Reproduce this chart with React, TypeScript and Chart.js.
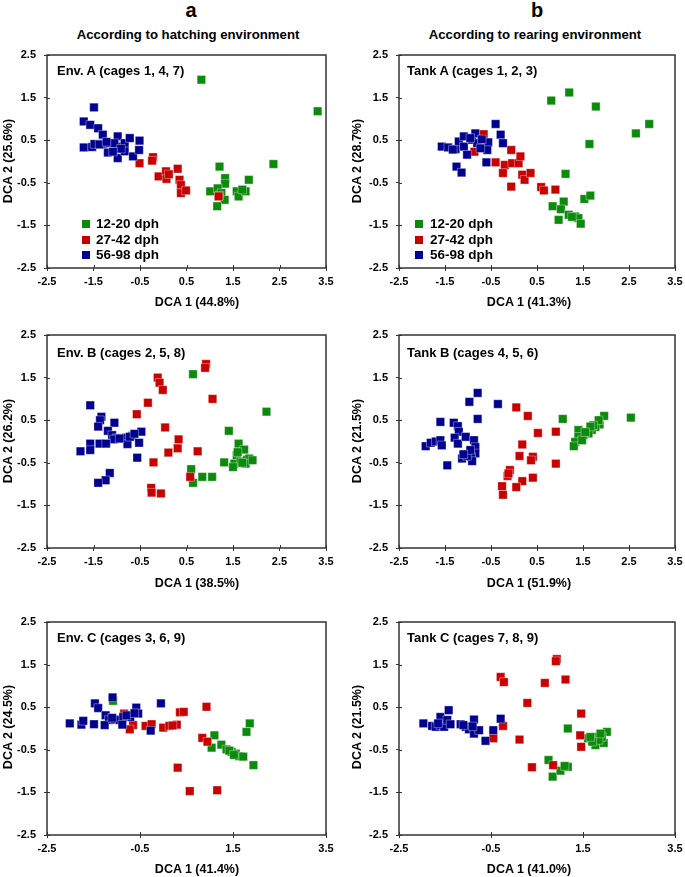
import React, { useEffect, useRef } from "react";
import { Chart, registerables } from "chart.js";

Chart.register(...registerables);

type Pts = [number, number][];

// ---------- tick labels ----------
const xTicksFine = [-2.5, -1.5, -0.5, 0.5, 1.5, 2.5, 3.5];
const xTicksCoarse = [-2.5, -0.5, 1.5, 3.5];
const yTicks = [-2.5, -1.5, -0.5, 0.5, 1.5, 2.5];

// ---------- groups ----------
const groupLabels = ["12-20 dph", "27-42 dph", "56-98 dph"];
const groupColors = ["#0b8a0b", "#c80000", "#000090"];

// ---------- Env. A (cages 1, 4, 7) ----------
const envA_12_20: Pts = [[0.82,1.92],[3.32,1.18],[2.37,-0.06],[1.21,-0.12],[1.33,-0.39],[1.33,-0.52],[1.84,-0.43],[1.01,-0.70],[1.17,-0.63],[1.25,-0.74],[1.32,-0.90],[1.16,-1.05],[1.58,-0.70],[1.62,-0.82],[1.77,-0.70],[1.70,-0.66],[1.20,-0.80]];
const envA_27_42: Pts = [[-0.51,-0.04],[-0.22,0.10],[-0.24,0.02],[-0.10,-0.35],[0.06,-0.23],[0.07,-0.41],[0.31,-0.17],[0.35,-0.43],[0.38,-0.55],[0.38,-0.74],[0.49,-0.68],[1.19,-0.82],[0.12,-0.30]];
const envA_56_98: Pts = [[-1.49,1.27],[-1.71,0.94],[-1.57,0.86],[-1.40,0.78],[-1.30,0.63],[-1.71,0.33],[-1.53,0.34],[-1.48,0.41],[-1.30,0.41],[-1.15,0.43],[-1.19,0.21],[-0.98,0.59],[-0.98,0.35],[-0.98,0.08],[-0.83,0.43],[-0.83,0.24],[-0.72,0.55],[-0.65,0.12],[-0.51,0.49],[-0.52,0.27],[-1.05,0.43],[-0.91,0.30],[-1.08,0.23],[-1.37,0.40],[-1.22,0.46]];

// ---------- Tank A (cages 1, 2, 3) ----------
const tankA_12_20: Pts = [[0.81,1.43],[1.20,1.62],[1.78,1.29],[2.94,0.88],[2.65,0.66],[1.64,0.41],[1.12,-0.29],[1.53,-0.88],[1.66,-0.80],[0.84,-1.05],[1.08,-0.94],[1.02,-1.12],[0.97,-1.37],[1.19,-1.25],[1.33,-1.29],[1.40,-1.33],[1.45,-1.46],[1.26,-1.30]];
const tankA_27_42: Pts = [[-0.66,0.64],[-0.86,0.23],[-0.40,-0.02],[-0.06,0.27],[-0.20,-0.08],[-0.24,-0.27],[-0.04,-0.04],[0.10,-0.04],[0.14,0.12],[0.18,-0.31],[0.23,-0.43],[0.36,-0.27],[-0.06,-0.59],[0.59,-0.60],[0.65,-0.68],[0.90,-0.66]];
const tankA_56_98: Pts = [[-0.40,0.88],[-0.29,0.63],[-0.24,0.43],[-0.56,0.45],[-0.58,0.27],[-0.60,-0.02],[-1.57,0.35],[-1.43,0.33],[-1.27,0.29],[-1.20,0.47],[-1.09,0.59],[-1.09,0.35],[-1.02,0.16],[-0.91,0.51],[-0.84,0.66],[-0.80,0.43],[-0.73,0.31],[-1.25,-0.12],[-1.14,-0.26],[-0.95,0.55],[-1.33,0.28],[-0.70,0.52]];

// ---------- Env. B (cages 2, 5, 8) ----------
const envB_12_20: Pts = [[0.64,1.58],[2.22,0.70],[1.41,0.25],[1.62,-0.05],[1.74,-0.19],[1.58,-0.32],[1.31,-0.49],[1.53,-0.52],[1.66,-0.47],[1.80,-0.43],[1.85,-0.40],[1.77,-0.52],[1.50,-0.60],[0.60,-0.65],[0.84,-0.83],[1.05,-0.83],[0.64,-0.97],[1.92,-0.44],[1.60,-0.25],[1.70,-0.50]];
const envB_27_42: Pts = [[0.92,1.82],[0.90,1.73],[-0.12,1.50],[-0.08,1.38],[-0.01,1.21],[1.06,1.00],[-0.33,0.91],[-0.57,0.64],[0.04,0.33],[0.33,0.05],[0.31,-0.16],[0.11,-0.26],[0.74,-0.23],[-0.21,-0.49],[-0.26,-1.09],[-0.25,-1.20],[-0.05,-1.22],[0.58,-0.83]];
const envB_56_98: Pts = [[-1.57,0.85],[-1.33,0.58],[-1.36,0.50],[-1.40,0.35],[-1.05,0.44],[-1.19,0.25],[-1.10,0.15],[-1.00,0.08],[-0.90,0.07],[-0.80,0.09],[-0.67,0.13],[-0.47,0.23],[-0.52,-0.03],[-1.06,0.05],[-1.57,-0.05],[-1.78,-0.23],[-1.57,-0.20],[-1.37,-0.05],[-1.23,-0.05],[-0.77,-0.06],[-0.56,-0.38],[-1.15,-0.74],[-1.24,-0.91],[-1.40,-0.97],[-0.72,0.11],[-0.94,0.07],[-0.62,0.18]];

// ---------- Tank B (cages 4, 5, 6) ----------
const tankB_12_20: Pts = [[1.06,0.53],[2.54,0.56],[1.96,0.60],[1.86,0.40],[1.77,0.34],[1.69,0.27],[1.62,0.19],[1.51,0.15],[1.40,0.27],[1.40,0.11],[1.33,-0.01],[1.30,-0.11],[1.84,0.50],[1.72,0.38],[1.48,0.03],[1.66,0.35],[1.55,0.22]];
const tankB_27_42: Pts = [[0.05,0.80],[0.30,0.60],[0.52,0.20],[0.91,0.23],[0.18,-0.07],[0.12,-0.34],[0.41,-0.36],[0.37,-0.44],[0.91,-0.52],[-0.09,-0.67],[-0.14,-0.81],[0.41,-0.85],[0.18,-0.93],[0.05,-1.07],[-0.26,-1.05],[-0.24,-1.25],[-0.12,-0.75]];
const tankB_56_98: Pts = [[-0.79,1.14],[-0.97,0.93],[-0.35,0.88],[-0.79,0.53],[-1.60,0.46],[-1.31,0.44],[-1.22,0.36],[-1.20,0.23],[-1.29,0.09],[-1.22,-0.05],[-1.05,0.11],[-0.87,0.03],[-0.84,-0.13],[-0.84,-0.28],[-0.93,-0.36],[-1.13,-0.40],[-0.91,-0.46],[-1.45,-0.56],[-1.92,-0.11],[-1.81,-0.03],[-1.70,0.00],[-1.60,0.03],[-1.57,-0.09],[-1.02,-0.34],[-0.95,-0.20],[-1.10,-0.30]];

// ---------- Env. C (cages 3, 6, 9) ----------
const envC_12_20: Pts = [[-1.08,0.65],[1.86,0.12],[1.79,-0.08],[1.10,-0.16],[1.04,-0.45],[1.25,-0.38],[1.36,-0.49],[1.47,-0.55],[1.56,-0.59],[1.63,-0.65],[1.72,-0.66],[1.94,-0.86],[1.42,-0.52],[1.52,-0.62]];
const envC_27_42: Pts = [[0.93,0.51],[0.36,0.38],[0.44,0.39],[-0.84,0.35],[-0.65,0.08],[-0.72,-0.02],[-0.38,0.06],[-0.25,0.10],[0.00,0.02],[0.13,0.06],[0.29,0.09],[0.84,-0.22],[0.95,-0.31],[0.31,-0.92],[0.57,-1.47],[1.16,-1.45],[0.20,0.07]];
const envC_56_98: Pts = [[-1.09,0.73],[-0.05,0.59],[-1.47,0.59],[-1.40,0.48],[-0.58,0.49],[-0.54,0.35],[-0.71,0.27],[-1.24,0.31],[-1.17,0.20],[-1.04,0.21],[-0.94,0.20],[-0.86,0.27],[-0.79,0.31],[-2.01,0.12],[-1.76,0.09],[-1.72,0.18],[-1.49,0.10],[-1.26,0.08],[-0.88,0.09],[-0.27,-0.05],[-1.10,0.25],[-0.62,0.36]];

// ---------- Tank C (cages 7, 8, 9) ----------
const tankC_12_20: Pts = [[1.17,0.00],[0.75,-0.74],[0.84,-1.13],[1.01,-0.99],[1.17,-0.90],[1.61,-0.23],[1.77,-0.20],[1.77,-0.39],[1.95,-0.34],[2.02,-0.08],[1.91,-0.20],[1.84,-0.27],[1.70,-0.31],[1.66,-0.20],[1.10,-0.88],[1.88,-0.12]];
const tankC_27_42: Pts = [[0.93,1.63],[0.91,1.58],[-0.29,1.21],[-0.22,1.09],[0.67,1.07],[1.12,1.15],[0.29,0.60],[1.46,0.35],[-0.24,0.06],[-0.45,-0.23],[0.12,-0.26],[1.44,-0.16],[1.46,-0.43],[0.85,-0.86],[0.39,-0.91]];
const tankC_56_98: Pts = [[-1.97,0.12],[-1.78,0.06],[-1.70,0.04],[-1.60,0.08],[-1.60,0.27],[-1.52,0.04],[-1.42,0.43],[-1.45,0.20],[-1.38,0.10],[-1.16,0.10],[-1.05,0.04],[-0.98,-0.02],[-0.87,0.21],[-0.87,-0.12],[-0.76,-0.04],[-0.62,-0.29],[-0.45,-0.04],[-0.29,0.23],[-0.90,0.05],[-1.10,0.08],[-1.65,0.12]];

const FONT = '"Liberation Sans", Arial, Helvetica, sans-serif';

const boxPlugin = {
  id: "plotBox",
  afterDraw(chart: any) {
    const { ctx, chartArea } = chart;
    const { left, top, right, bottom } = chartArea;
    ctx.save();
    ctx.strokeStyle = "#333";
    ctx.lineWidth = 1.5;
    ctx.strokeRect(left, top, right - left, bottom - top);
    ctx.lineWidth = 1;
    const xs = chart.scales.x;
    const ys = chart.scales.y;
    xs.ticks.forEach((t: any) => {
      const px = Math.round(xs.getPixelForValue(t.value)) + 0.5;
      ctx.beginPath();
      ctx.moveTo(px, bottom);
      ctx.lineTo(px, bottom - 3);
      ctx.stroke();
    });
    ys.ticks.forEach((t: any) => {
      const py = Math.round(ys.getPixelForValue(t.value)) + 0.5;
      ctx.beginPath();
      ctx.moveTo(left, py);
      ctx.lineTo(left + 3, py);
      ctx.stroke();
    });
    ctx.restore();
  },
};

interface PanelProps {
  colX: number;
  colW: number;
  plotLeft: number;
  plotRight: number;
  plotTop: number;
  plotBottom: number;
  groups: Pts[];
  xTicks: number[];
}

const TOP_PAD = 12;
const X_AXIS_H = 32;

function Panel(p: PanelProps) {
  const ref = useRef<HTMLCanvasElement | null>(null);
  const w = p.colW;
  const h = p.plotBottom - p.plotTop + TOP_PAD + X_AXIS_H;
  useEffect(() => {
    if (!ref.current) return;
    const tickFont = { family: FONT, weight: "bold" as const, size: 11 };
    const chart = new Chart(ref.current, {
      type: "scatter",
      data: {
        datasets: p.groups.map((g, i) => ({
          label: groupLabels[i],
          data: g.map(([x, y]) => ({ x, y })),
          backgroundColor: groupColors[i],
          borderColor: "rgba(255,255,255,0.6)",
          borderWidth: 0.6,
          pointStyle: "rect",
          pointRadius: 6,
          pointHoverRadius: 6,
          order: 2 - i,
        })),
      },
      options: {
        animation: false,
        responsive: false,
        maintainAspectRatio: false,
        layout: {
          padding: { left: 0, top: TOP_PAD, right: p.colX + p.colW - p.plotRight, bottom: 0 },
        },
        plugins: { legend: { display: false }, tooltip: { enabled: false } },
        scales: {
          x: {
            type: "linear",
            min: -2.5,
            max: 3.5,
            afterBuildTicks: (s: any) => {
              s.ticks = p.xTicks.map((v) => ({ value: v }));
            },
            afterFit: (s: any) => {
              s.height = X_AXIS_H;
              s.paddingLeft = 0;
              s.paddingRight = 0;
            },
            border: { display: false },
            grid: { drawOnChartArea: false, drawTicks: true, tickLength: 3, color: "#333", lineWidth: 1 },
            ticks: {
              font: tickFont,
              color: "#000",
              padding: 4,
              maxRotation: 0,
              autoSkip: false,
              callback: (v: any) => Number(v).toFixed(1),
            },
          },
          y: {
            type: "linear",
            min: -2.5,
            max: 2.5,
            afterBuildTicks: (s: any) => {
              s.ticks = yTicks.map((v) => ({ value: v }));
            },
            afterFit: (s: any) => {
              s.width = p.plotLeft - p.colX;
              s.paddingTop = 0;
              s.paddingBottom = 0;
            },
            border: { display: false },
            grid: { drawOnChartArea: false, drawTicks: true, tickLength: 3, color: "#333", lineWidth: 1 },
            ticks: {
              font: tickFont,
              color: "#000",
              padding: 8,
              autoSkip: false,
              callback: (v: any) => Number(v).toFixed(1),
            },
          },
        },
      },
      plugins: [boxPlugin],
    });
    return () => chart.destroy();
  }, []);
  return (
    <canvas
      ref={ref}
      width={w}
      height={h}
      style={{ position: "absolute", left: p.colX, top: p.plotTop - TOP_PAD, width: w, height: h }}
    />
  );
}

function Txt(props: { x: number; y: number; size: number; text: string; rotate?: boolean; anchor?: "left" | "center" }) {
  const center = props.anchor !== "left";
  const tf = props.rotate
    ? "translate(-50%,-50%) rotate(-90deg)"
    : center
    ? "translate(-50%,-50%)"
    : "translate(0,-50%)";
  return (
    <div
      style={{
        position: "absolute",
        left: props.x,
        top: props.y,
        transform: tf,
        fontFamily: FONT,
        fontWeight: "bold",
        fontSize: props.size,
        whiteSpace: "nowrap",
        color: "#000",
        lineHeight: 1,
      }}
    >
      {props.text}
    </div>
  );
}

function Legend(props: { sqX: number; textX: number }) {
  const rows = [224, 239.5, 255];
  return (
    <>
      {groupLabels.map((l, i) => (
        <React.Fragment key={l}>
          <div
            style={{
              position: "absolute",
              left: props.sqX,
              top: rows[i] - 4,
              width: 8,
              height: 8,
              background: groupColors[i],
            }}
          />
          <Txt x={props.textX} y={rows[i]} size={13.5} text={l} anchor="left" />
        </React.Fragment>
      ))}
    </>
  );
}

export default function App() {
  const L = { colX: 0, colW: 342, plotLeft: 47, plotRight: 326 };
  const R = { colX: 342, colW: 343, plotLeft: 399, plotRight: 675 };
  const rows = [
    { plotTop: 55, plotBottom: 268 },
    { plotTop: 335, plotBottom: 548 },
    { plotTop: 622, plotBottom: 835 },
  ];
  return (
    <div style={{ position: "absolute", left: 0, top: 0, width: 685, height: 877, background: "#fff", overflow: "hidden" }}>
      <Txt x={191} y={10} size={20} text="a" />
      <Txt x={537} y={10} size={20} text="b" />
      <Txt x={188} y={35} size={13.2} text="According to hatching environment" />
      <Txt x={535} y={35} size={13.2} text="According to rearing environment" />

      <Panel {...L} {...rows[0]} groups={[envA_12_20, envA_27_42, envA_56_98]} xTicks={xTicksFine} />
      <Panel {...R} {...rows[0]} groups={[tankA_12_20, tankA_27_42, tankA_56_98]} xTicks={xTicksFine} />
      <Panel {...L} {...rows[1]} groups={[envB_12_20, envB_27_42, envB_56_98]} xTicks={xTicksFine} />
      <Panel {...R} {...rows[1]} groups={[tankB_12_20, tankB_27_42, tankB_56_98]} xTicks={xTicksFine} />
      <Panel {...L} {...rows[2]} groups={[envC_12_20, envC_27_42, envC_56_98]} xTicks={xTicksCoarse} />
      <Panel {...R} {...rows[2]} groups={[tankC_12_20, tankC_27_42, tankC_56_98]} xTicks={xTicksCoarse} />

      <Txt x={57} y={70} size={13} text="Env. A (cages 1, 4, 7)" anchor="left" />
      <Txt x={407} y={70} size={13} text="Tank A (cages 1, 2, 3)" anchor="left" />
      <Txt x={57} y={352} size={13} text="Env. B (cages 2, 5, 8)" anchor="left" />
      <Txt x={407} y={352} size={13} text="Tank B (cages 4, 5, 6)" anchor="left" />
      <Txt x={57} y={637} size={13} text="Env. C (cages 3, 6, 9)" anchor="left" />
      <Txt x={407} y={637} size={13} text="Tank C (cages 7, 8, 9)" anchor="left" />

      <Legend sqX={82} textX={96} />
      <Legend sqX={415} textX={430} />

      <Txt x={197} y={302} size={12.5} text="DCA 1 (44.8%)" />
      <Txt x={529} y={302} size={12.5} text="DCA 1 (41.3%)" />
      <Txt x={197} y={583} size={12.5} text="DCA 1 (38.5%)" />
      <Txt x={529} y={583} size={12.5} text="DCA 1 (51.9%)" />
      <Txt x={197} y={869} size={12.5} text="DCA 1 (41.4%)" />
      <Txt x={529} y={869} size={12.5} text="DCA 1 (41.0%)" />

      <Txt x={8} y={161} size={12.5} text="DCA 2 (25.6%)" rotate />
      <Txt x={357} y={161} size={12.5} text="DCA 2 (28.7%)" rotate />
      <Txt x={8} y={441} size={12.5} text="DCA 2 (26.2%)" rotate />
      <Txt x={357} y={441} size={12.5} text="DCA 2 (21.5%)" rotate />
      <Txt x={8} y={727} size={12.5} text="DCA 2 (24.5%)" rotate />
      <Txt x={357} y={727} size={12.5} text="DCA 2 (21.5%)" rotate />
    </div>
  );
}
